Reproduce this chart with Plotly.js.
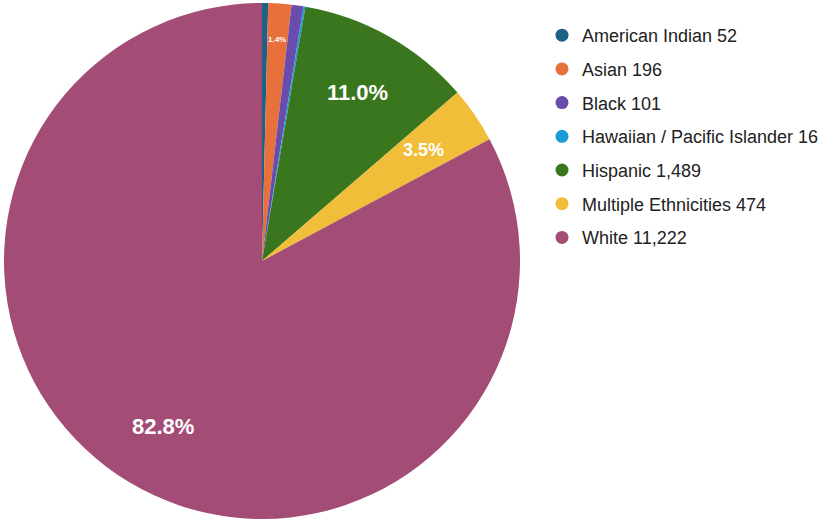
<!DOCTYPE html>
<html>
<head>
<meta charset="utf-8">
<script src="https://cdn.plot.ly/plotly-3.0.1.min.js"></script>
<style>html,body{margin:0;padding:0;background:#fff;}#chart{width:822px;height:520px;}</style>
</head>
<body>
<div id="chart"></div>
<script>
var categories = ["American Indian", "Asian", "Black", "Hawaiian / Pacific Islander", "Hispanic", "Multiple Ethnicities", "White"];
var values = [52, 196, 101, 16, 1489, 474, 11222];
var colors = ["#1d6186", "#e8703a", "#6a4cad", "#1b9bd6", "#3a761d", "#f0be38", "#a24c76"];
var showPct = [false, true, false, false, true, true, true];

var W = 822, H = 520;
// pie geometry (pixels)
var CX = 262, CY = 261, R = 258;
// label styling per slice: font size and radial fraction
var labelSize = [0, 8, 0, 0, 22, 18, 22];
var labelRad = [0, 0.86, 0, 0, 0.75, 0.76, 0.75];

var pie = {
  type: "pie",
  labels: categories,
  values: values,
  sort: false,
  direction: "clockwise",
  rotation: 0,
  marker: {colors: colors, line: {width: 0}},
  textinfo: "none",
  domain: {x: [(CX - R) / W, (CX + R) / W], y: [1 - (CY + R) / H, 1 - (CY - R) / H]},
  showlegend: false,
  hoverinfo: "label+value+percent"
};

var traces = [pie];
categories.forEach(function(c, i){
  traces.push({
    type: "scatter",
    mode: "markers",
    x: [null], y: [null],
    name: c + " " + values[i].toLocaleString("en-US"),
    legendgroup: "g" + i,
    marker: {color: colors[i], size: 13, symbol: "circle"},
    showlegend: true,
    hoverinfo: "skip"
  });
});

// percentage labels placed along each slice's bisector
var total = values.reduce(function(a, b){ return a + b; }, 0);
var annotations = [];
var cum = 0;
values.forEach(function(v, i){
  var mid = (cum + v / 2) / total * 2 * Math.PI;
  cum += v;
  if (!showPct[i]) return;
  var r = R * labelRad[i];
  annotations.push({
    xref: "paper", yref: "paper",
    x: (CX + r * Math.sin(mid)) / W,
    y: 1 - (CY - r * Math.cos(mid)) / H,
    xanchor: "center", yanchor: "middle",
    showarrow: false,
    text: (v / total * 100).toFixed(1) + "%",
    font: {family: "Liberation Sans, Arial, sans-serif", size: labelSize[i], color: "#ffffff", weight: "bold"}
  });
});

var layout = {
  width: W, height: H,
  margin: {l: 0, r: 0, t: 0, b: 0, autoexpand: false},
  paper_bgcolor: "#ffffff",
  plot_bgcolor: "rgba(0,0,0,0)",
  xaxis: {visible: false},
  yaxis: {visible: false},
  showlegend: true,
  annotations: annotations,
  legend: {
    x: 542 / W, xanchor: "left",
    y: 1 - 17 / H, yanchor: "top",
    font: {family: "Liberation Sans, Arial, sans-serif", size: 18, color: "#222222"},
    tracegroupgap: 7.3,
    bgcolor: "rgba(0,0,0,0)"
  }
};

Plotly.newPlot("chart", traces, layout, {displayModeBar: false, staticPlot: true});
</script>
</body>
</html>
